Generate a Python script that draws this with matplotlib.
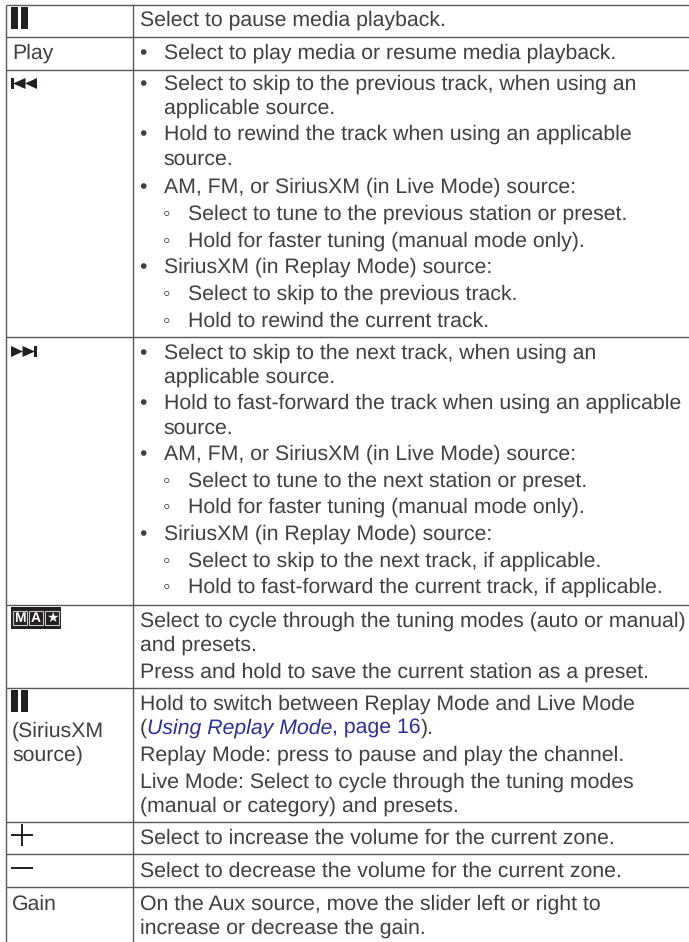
"""Control table from the stereo manual page, drawn on a pixel-scaled axes."""

import matplotlib

matplotlib.use("Agg")
import matplotlib.pyplot as plt
from matplotlib.patches import Polygon, Rectangle

WIDTH = 689
HEIGHT = 942
INK = "#404040"
ICON = "#231f20"
RULE = "#585858"
LINK = "#2e3192"
FONT_SIZE = 15.3

LEFT_LABELS = ["Play", "(SiriusXM", "source)", "Gain"]
RIGHT_LINES = [
    "Select to pause media playback.",
    "Select to play media or resume media playback.",
    "Select to skip to the previous track, when using an",
    "applicable source.",
    "Hold to rewind the track when using an applicable",
    "source.",
    "AM, FM, or SiriusXM (in Live Mode) source:",
    "Select to tune to the previous station or preset.",
    "Hold for faster tuning (manual mode only).",
    "SiriusXM (in Replay Mode) source:",
    "Select to skip to the previous track.",
    "Hold to rewind the current track.",
    "Select to skip to the next track, when using an",
    "applicable source.",
    "Hold to fast-forward the track when using an applicable",
    "source.",
    "AM, FM, or SiriusXM (in Live Mode) source:",
    "Select to tune to the next station or preset.",
    "Hold for faster tuning (manual mode only).",
    "SiriusXM (in Replay Mode) source:",
    "Select to skip to the next track, if applicable.",
    "Hold to fast-forward the current track, if applicable.",
    "Select to cycle through the tuning modes (auto or manual)",
    "and presets.",
    "Press and hold to save the current station as a preset.",
    "Hold to switch between Replay Mode and Live Mode",
    None,
    "Replay Mode: press to pause and play the channel.",
    "Live Mode: Select to cycle through the tuning modes",
    "(manual or category) and presets.",
    "Select to increase the volume for the current zone.",
    "Select to decrease the volume for the current zone.",
    "On the Aux source, move the slider left or right to",
    "increase or decrease the gain.",
]
LINK_PARTS = ["(", "Using Replay Mode", ", page 16", ")."]

# layout, in reference pixels
LEFT_BASELINES = [59, 737, 761, 910]
RIGHT_BASELINES = [
    26, 59, 90, 114, 140, 165, 193, 220, 247, 273, 300, 327,
    359, 383, 409, 434, 460, 487, 513, 540, 567, 593,
    627, 651, 678, 710, 734, 761, 788, 812, 844, 877, 910, 934,
]
RIGHT_LEVELS = [
    0, 1, 1, -1, 1, -1, 1, 2, 2, 1, 2, 2,
    1, -1, 1, -1, 1, 2, 2, 1, 2, 2,
    0, 0, 0, 0, 0, 0, 0, 0, 0, 0, 0, 0,
]
ROW_RULES = [4.5, 37, 69.5, 337, 604.6, 688, 821.7, 854.3, 887.3]
COL_RULES = [5.6, 133.4]


def add_pause(ax, top):
    for x0 in (11, 21):
        ax.add_patch(Rectangle((x0, top), 7.2, 22, fc=ICON, ec="none"))


def add_skip(ax, top, forward):
    def px(x):
        return 48 - x if forward else x

    ax.add_patch(Polygon([(px(11), top), (px(14), top), (px(14), top + 11), (px(11), top + 11)], fc=ICON, ec="none"))
    for tip, base in ((13, 25.5), (25, 37)):
        ax.add_patch(Polygon([(px(tip), top + 5.5), (px(base), top), (px(base), top + 11)], fc=ICON, ec="none"))


def add_mode_badge(ax):
    ax.add_patch(Rectangle((11, 607), 50, 22, fc=ICON, ec="none"))
    for x0, label in ((13, "M"), (29, "A"), (45, "★")):
        ax.add_patch(Rectangle((x0, 611), 14, 14, fc="none", ec="#c8c8c8", lw=0.8))
        ax.text(x0 + 7, 618.3, label, color="white", fontsize=10, fontweight="bold",
                ha="center", va="center", family=["Liberation Sans", "DejaVu Sans"])


def add_link_line(ax, renderer, x, baseline):
    styles = [(INK, "normal"), (LINK, "italic"), (LINK, "normal"), (INK, "normal")]
    for part, (color, style) in zip(LINK_PARTS, styles):
        txt = ax.text(x, baseline, part, color=color, fontstyle=style, fontsize=FONT_SIZE, va="baseline")
        width = renderer.get_text_width_height_descent(part, txt.get_fontproperties(), False)[0]
        x += width


def main():
    plt.rcParams["font.family"] = ["Liberation Sans", "DejaVu Sans"]
    plt.rcParams["text.hinting"] = "none"
    plt.rcParams["text.hinting_factor"] = 8
    fig = plt.figure(figsize=(WIDTH / 100, HEIGHT / 100), dpi=100)
    ax = fig.add_axes([0, 0, 1, 1])
    ax.set_xlim(0, WIDTH)
    ax.set_ylim(HEIGHT, 0)
    ax.axis("off")
    renderer = fig.canvas.get_renderer()

    for y in ROW_RULES:
        ax.plot([COL_RULES[0], WIDTH], [y, y], color=RULE, lw=1.0, solid_capstyle="butt")
    for x in COL_RULES:
        ax.plot([x, x], [ROW_RULES[0], HEIGHT], color=RULE, lw=1.0, solid_capstyle="butt")

    for label, baseline in zip(LEFT_LABELS, LEFT_BASELINES):
        ax.text(12, baseline, label, color=INK, fontsize=FONT_SIZE, va="baseline")

    for line, baseline, level in zip(RIGHT_LINES, RIGHT_BASELINES, RIGHT_LEVELS):
        if line is None:
            add_link_line(ax, renderer, 139.5, baseline)
            continue
        x = {0: 139.5, 1: 163.5, -1: 163.5, 2: 187.5}[level]
        ax.text(x, baseline, line, color=INK, fontsize=FONT_SIZE, va="baseline")
        if level == 1:
            ax.text(143, baseline, "•", color=INK, fontsize=FONT_SIZE, ha="center", va="baseline")
        elif level == 2:
            ax.text(167, baseline, "◦", color=INK, fontsize=FONT_SIZE, ha="center", va="baseline")

    add_pause(ax, 7)
    add_pause(ax, 690)
    add_skip(ax, 78, False)
    add_skip(ax, 346, True)
    add_mode_badge(ax)
    ax.plot([11, 33], [835, 835], color=ICON, lw=1.4, solid_capstyle="butt")
    ax.plot([22, 22], [824, 846], color=ICON, lw=1.4, solid_capstyle="butt")
    ax.plot([11, 33], [867.5, 867.5], color=ICON, lw=1.4, solid_capstyle="butt")

    fig.savefig("out.png", dpi=100, facecolor="white")
    plt.close(fig)


if __name__ == "__main__":
    main()
